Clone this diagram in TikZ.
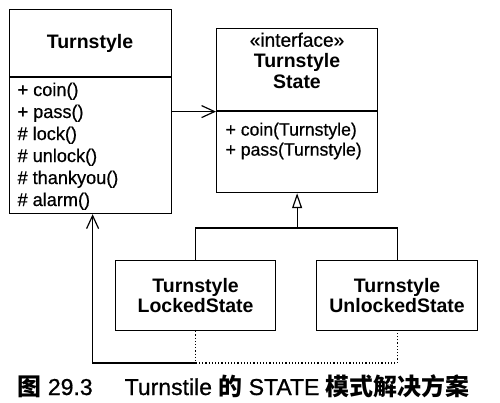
\documentclass[tikz,border=0pt]{standalone}
\usepackage{fontspec}
\setmainfont{Liberation Sans}
\newfontfamily\opsfont{Liberation Sans}[FakeStretch=0.98,FakeBold=0.6]
\newfontfamily\capfont{Liberation Sans}[FakeBold=0.8]
\newfontfamily\cjk{Noto Sans CJK SC}[Scale=1.04]
\usetikzlibrary{arrows.meta}

\begin{document}
\begin{tikzpicture}[x=1pt,y=-1pt,line width=1.2pt,
    cls/.style={draw,anchor=north west,inner sep=0pt,align=center,
      font=\fontsize{19.5}{20}\selectfont\bfseries},
    ops/.style={anchor=north west,inner sep=0pt,align=left},
    uses/.style={-{Straight Barb[length=13pt,width=12pt]}},
    isa/.style={-{Triangle[open,length=15pt,width=10pt]}}]
\useasboundingbox (0,0) rectangle (500,403);

    \node[cls,minimum width=162pt,minimum height=204pt] (ts) at (9,9) {};
    \draw (ts.north west) ++(0,68) coordinate (tsdiv) -- (tsdiv -| ts.east);
    \node[anchor=base,inner sep=0pt,font=\fontsize{19.5}{20}\selectfont\bfseries]
      (tsname) at (90,49) {Turnstyle};
    \node[ops,font=\fontsize{18.5}{22}\opsfont] (tsops) at (17,82)
      {+ coin()\\+ pass()\\\# lock()\\\# unlock()\\\# thankyou()\\\# alarm()};

    \node[cls,minimum width=161pt,minimum height=164pt] (iface) at (216,28) {};
    \draw (iface.north west) ++(0,83) coordinate (ifdiv) -- (ifdiv -| iface.east);
    \node[anchor=north,inner sep=0pt,align=center,
      font=\fontsize{19.5}{21}\selectfont\bfseries]
      (ifname) at (297,32) {{\mdseries\opsfont «interface»}\\Turnstyle\\State};
    \node[ops,font=\fontsize{18}{20}\opsfont] (ifops) at (225,122)
      {+ coin(Turnstyle)\\+ pass(Turnstyle)};

    \node[cls,minimum width=160pt,minimum height=70pt] (locked) at (115,260)
      {Turnstyle\\LockedState};
    \node[cls,minimum width=161pt,minimum height=70pt] (unlocked) at (316,260)
      {Turnstyle\\UnlockedState};

    \draw[uses] (ts.east) -- (iface.west |- ts.east);

    \coordinate (bus) at (iface.south |- 0,228);
    \draw (locked.north) |- (bus) -| (unlocked.north);
    \draw[isa] (bus) -- (iface.south);

    \coordinate (jl) at (locked.south |- 0,363);
    \coordinate (jr) at (unlocked.south |- 0,363);
    \draw[dotted] (locked.south) -- (jl) -- (jr) -- (unlocked.south);
    \draw[uses] (jl) -| ([xshift=2pt]ts.south);

    \node[anchor=base west,inner sep=0pt,font=\fontsize{23}{23}\capfont]
      (caption) at (17,395)
      {{\cjk\bfseries 图} 29.3\hspace{32pt}Turnstile {\cjk\bfseries 的} STATE
       {\cjk\bfseries 模式解决方案}};
\end{tikzpicture}
\end{document}
